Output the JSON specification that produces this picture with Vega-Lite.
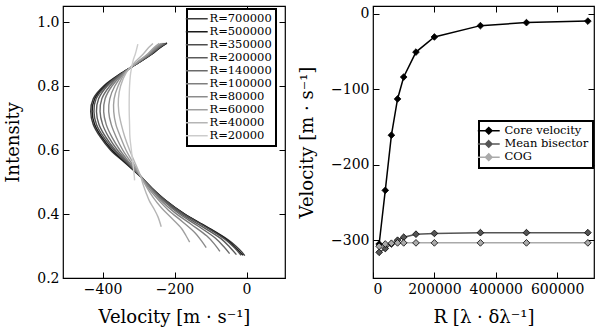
{
"$schema": "https://vega.github.io/schema/vega-lite/v6.json",
"padding": {"left": 4, "top": 4, "right": 0, "bottom": 0},
"config": {
 "font": "DejaVu Serif",
 "view": {"stroke": "black", "strokeWidth": 1.2},
 "axis": {"domain": false, "grid": false, "tickColor": "black", "tickSize": -6, "tickWidth": 1, "labelFont": "DejaVu Serif", "labelFontSize": 14, "labelColor": "black", "titleFont": "DejaVu Serif", "titleFontSize": 18, "titleFontWeight": "normal", "titleColor": "black", "labelPadding": 10, "titlePadding": 12},
 "axisY": {"titlePadding": 14},
 "legend": {"labelFont": "DejaVu Serif", "labelColor": "black", "strokeColor": "black", "strokeWidth": 2, "fillColor": "white", "padding": 4, "labelOffset": 7, "symbolSize": 30, "symbolStrokeWidth": 1.5, "labelFontSize": 11.5, "rowPadding": 0}
},
"spacing": 10,
"resolve": {"scale": {"x": "independent", "y": "independent", "color": "independent"}},
"hconcat": [
{
 "width": 222, "height": 272,
 "data": {"values": [
{"R":"R=700000","k":0,"I":0.935,"v":-221},{"R":"R=700000","k":1,"I":0.92,"v":-240},{"R":"R=700000","k":2,"I":0.90,"v":-262},{"R":"R=700000","k":3,"I":0.87,"v":-304},{"R":"R=700000","k":4,"I":0.84,"v":-348},{"R":"R=700000","k":5,"I":0.80,"v":-397},{"R":"R=700000","k":6,"I":0.76,"v":-426},{"R":"R=700000","k":7,"I":0.72,"v":-433},{"R":"R=700000","k":8,"I":0.68,"v":-426},{"R":"R=700000","k":9,"I":0.64,"v":-406},{"R":"R=700000","k":10,"I":0.60,"v":-378},{"R":"R=700000","k":11,"I":0.56,"v":-338},{"R":"R=700000","k":12,"I":0.52,"v":-298},{"R":"R=700000","k":13,"I":0.48,"v":-262},{"R":"R=700000","k":14,"I":0.44,"v":-222},{"R":"R=700000","k":15,"I":0.40,"v":-172},{"R":"R=700000","k":16,"I":0.36,"v":-110},{"R":"R=700000","k":17,"I":0.32,"v":-52},{"R":"R=700000","k":18,"I":0.30,"v":-30},{"R":"R=700000","k":19,"I":0.28,"v":-12},{"R":"R=700000","k":20,"I":0.27,"v":-5},
{"R":"R=500000","k":0,"I":0.933,"v":-222},{"R":"R=500000","k":1,"I":0.92,"v":-241},{"R":"R=500000","k":2,"I":0.90,"v":-263},{"R":"R=500000","k":3,"I":0.87,"v":-304},{"R":"R=500000","k":4,"I":0.84,"v":-347},{"R":"R=500000","k":5,"I":0.80,"v":-394},{"R":"R=500000","k":6,"I":0.76,"v":-422},{"R":"R=500000","k":7,"I":0.72,"v":-429},{"R":"R=500000","k":8,"I":0.68,"v":-422},{"R":"R=500000","k":9,"I":0.64,"v":-402},{"R":"R=500000","k":10,"I":0.60,"v":-374},{"R":"R=500000","k":11,"I":0.56,"v":-336},{"R":"R=500000","k":12,"I":0.52,"v":-297},{"R":"R=500000","k":13,"I":0.48,"v":-262},{"R":"R=500000","k":14,"I":0.441,"v":-223},{"R":"R=500000","k":15,"I":0.401,"v":-174},{"R":"R=500000","k":16,"I":0.361,"v":-113},{"R":"R=500000","k":17,"I":0.321,"v":-56},{"R":"R=500000","k":18,"I":0.296,"v":-32},{"R":"R=500000","k":19,"I":0.271,"v":-10},
{"R":"R=350000","k":0,"I":0.933,"v":-224},{"R":"R=350000","k":1,"I":0.92,"v":-243},{"R":"R=350000","k":2,"I":0.90,"v":-264},{"R":"R=350000","k":3,"I":0.87,"v":-305},{"R":"R=350000","k":4,"I":0.84,"v":-346},{"R":"R=350000","k":5,"I":0.80,"v":-391},{"R":"R=350000","k":6,"I":0.76,"v":-418},{"R":"R=350000","k":7,"I":0.72,"v":-424},{"R":"R=350000","k":8,"I":0.68,"v":-417},{"R":"R=350000","k":9,"I":0.64,"v":-397},{"R":"R=350000","k":10,"I":0.60,"v":-369},{"R":"R=350000","k":11,"I":0.56,"v":-333},{"R":"R=350000","k":12,"I":0.52,"v":-296},{"R":"R=350000","k":13,"I":0.48,"v":-263},{"R":"R=350000","k":14,"I":0.441,"v":-224},{"R":"R=350000","k":15,"I":0.401,"v":-176},{"R":"R=350000","k":16,"I":0.361,"v":-116},{"R":"R=350000","k":17,"I":0.321,"v":-60},{"R":"R=350000","k":18,"I":0.295,"v":-34},{"R":"R=350000","k":19,"I":0.271,"v":-15},
{"R":"R=200000","k":0,"I":0.933,"v":-226},{"R":"R=200000","k":1,"I":0.92,"v":-244},{"R":"R=200000","k":2,"I":0.90,"v":-265},{"R":"R=200000","k":3,"I":0.87,"v":-305},{"R":"R=200000","k":4,"I":0.84,"v":-345},{"R":"R=200000","k":5,"I":0.80,"v":-387},{"R":"R=200000","k":6,"I":0.76,"v":-411},{"R":"R=200000","k":7,"I":0.72,"v":-417},{"R":"R=200000","k":8,"I":0.68,"v":-410},{"R":"R=200000","k":9,"I":0.64,"v":-391},{"R":"R=200000","k":10,"I":0.60,"v":-365},{"R":"R=200000","k":11,"I":0.56,"v":-331},{"R":"R=200000","k":12,"I":0.52,"v":-296},{"R":"R=200000","k":13,"I":0.48,"v":-264},{"R":"R=200000","k":14,"I":0.441,"v":-228},{"R":"R=200000","k":15,"I":0.401,"v":-182},{"R":"R=200000","k":16,"I":0.362,"v":-125},{"R":"R=200000","k":17,"I":0.323,"v":-71},{"R":"R=200000","k":18,"I":0.297,"v":-47},{"R":"R=200000","k":19,"I":0.273,"v":-28},
{"R":"R=140000","k":0,"I":0.933,"v":-229},{"R":"R=140000","k":1,"I":0.92,"v":-246},{"R":"R=140000","k":2,"I":0.90,"v":-267},{"R":"R=140000","k":3,"I":0.87,"v":-306},{"R":"R=140000","k":4,"I":0.84,"v":-344},{"R":"R=140000","k":5,"I":0.80,"v":-380},{"R":"R=140000","k":6,"I":0.76,"v":-402},{"R":"R=140000","k":7,"I":0.72,"v":-407},{"R":"R=140000","k":8,"I":0.68,"v":-400},{"R":"R=140000","k":9,"I":0.64,"v":-383},{"R":"R=140000","k":10,"I":0.60,"v":-359},{"R":"R=140000","k":11,"I":0.56,"v":-328},{"R":"R=140000","k":12,"I":0.52,"v":-296},{"R":"R=140000","k":13,"I":0.481,"v":-266},{"R":"R=140000","k":14,"I":0.442,"v":-232},{"R":"R=140000","k":15,"I":0.403,"v":-190},{"R":"R=140000","k":16,"I":0.364,"v":-137},{"R":"R=140000","k":17,"I":0.325,"v":-87},{"R":"R=140000","k":18,"I":0.299,"v":-64},{"R":"R=140000","k":19,"I":0.276,"v":-47},
{"R":"R=100000","k":0,"I":0.933,"v":-232},{"R":"R=100000","k":1,"I":0.92,"v":-249},{"R":"R=100000","k":2,"I":0.90,"v":-269},{"R":"R=100000","k":3,"I":0.87,"v":-307},{"R":"R=100000","k":4,"I":0.84,"v":-342},{"R":"R=100000","k":5,"I":0.80,"v":-374},{"R":"R=100000","k":6,"I":0.76,"v":-393},{"R":"R=100000","k":7,"I":0.72,"v":-397},{"R":"R=100000","k":8,"I":0.68,"v":-390},{"R":"R=100000","k":9,"I":0.64,"v":-374},{"R":"R=100000","k":10,"I":0.60,"v":-352},{"R":"R=100000","k":11,"I":0.56,"v":-325},{"R":"R=100000","k":12,"I":0.52,"v":-296},{"R":"R=100000","k":13,"I":0.482,"v":-269},{"R":"R=100000","k":14,"I":0.444,"v":-239},{"R":"R=100000","k":15,"I":0.406,"v":-201},{"R":"R=100000","k":16,"I":0.368,"v":-154},{"R":"R=100000","k":17,"I":0.331,"v":-110},{"R":"R=100000","k":18,"I":0.306,"v":-89},{"R":"R=100000","k":19,"I":0.283,"v":-74},
{"R":"R=80000","k":0,"I":0.933,"v":-236},{"R":"R=80000","k":1,"I":0.92,"v":-253},{"R":"R=80000","k":2,"I":0.90,"v":-272},{"R":"R=80000","k":3,"I":0.87,"v":-308},{"R":"R=80000","k":4,"I":0.84,"v":-340},{"R":"R=80000","k":5,"I":0.80,"v":-366},{"R":"R=80000","k":6,"I":0.76,"v":-380},{"R":"R=80000","k":7,"I":0.72,"v":-383},{"R":"R=80000","k":8,"I":0.68,"v":-376},{"R":"R=80000","k":9,"I":0.64,"v":-362},{"R":"R=80000","k":10,"I":0.60,"v":-344},{"R":"R=80000","k":11,"I":0.56,"v":-320},{"R":"R=80000","k":12,"I":0.52,"v":-295},{"R":"R=80000","k":13,"I":0.483,"v":-274},{"R":"R=80000","k":14,"I":0.448,"v":-248},{"R":"R=80000","k":15,"I":0.412,"v":-217},{"R":"R=80000","k":16,"I":0.376,"v":-178},{"R":"R=80000","k":17,"I":0.340,"v":-142},{"R":"R=80000","k":18,"I":0.316,"v":-125},{"R":"R=80000","k":19,"I":0.295,"v":-112},
{"R":"R=60000","k":0,"I":0.933,"v":-242},{"R":"R=60000","k":1,"I":0.92,"v":-257},{"R":"R=60000","k":2,"I":0.90,"v":-275},{"R":"R=60000","k":3,"I":0.87,"v":-309},{"R":"R=60000","k":4,"I":0.84,"v":-338},{"R":"R=60000","k":5,"I":0.80,"v":-357},{"R":"R=60000","k":6,"I":0.76,"v":-368},{"R":"R=60000","k":7,"I":0.72,"v":-369},{"R":"R=60000","k":8,"I":0.68,"v":-363},{"R":"R=60000","k":9,"I":0.64,"v":-350},{"R":"R=60000","k":10,"I":0.60,"v":-335},{"R":"R=60000","k":11,"I":0.56,"v":-315},{"R":"R=60000","k":12,"I":0.52,"v":-295},{"R":"R=60000","k":13,"I":0.485,"v":-278},{"R":"R=60000","k":14,"I":0.453,"v":-260},{"R":"R=60000","k":15,"I":0.419,"v":-236},{"R":"R=60000","k":16,"I":0.386,"v":-207},{"R":"R=60000","k":17,"I":0.354,"v":-180},{"R":"R=60000","k":18,"I":0.332,"v":-168},{"R":"R=60000","k":19,"I":0.312,"v":-158},
{"R":"R=40000","k":0,"I":0.933,"v":-260},{"R":"R=40000","k":1,"I":0.92,"v":-272},{"R":"R=40000","k":2,"I":0.90,"v":-287},{"R":"R=40000","k":3,"I":0.87,"v":-314},{"R":"R=40000","k":4,"I":0.84,"v":-335},{"R":"R=40000","k":5,"I":0.80,"v":-350},{"R":"R=40000","k":6,"I":0.76,"v":-356},{"R":"R=40000","k":7,"I":0.72,"v":-355},{"R":"R=40000","k":8,"I":0.68,"v":-348},{"R":"R=40000","k":9,"I":0.64,"v":-338},{"R":"R=40000","k":10,"I":0.60,"v":-325},{"R":"R=40000","k":11,"I":0.56,"v":-310},{"R":"R=40000","k":12,"I":0.52,"v":-295},{"R":"R=40000","k":13,"I":0.491,"v":-287},{"R":"R=40000","k":14,"I":0.466,"v":-279},{"R":"R=40000","k":15,"I":0.441,"v":-270},{"R":"R=40000","k":16,"I":0.416,"v":-257},{"R":"R=40000","k":17,"I":0.391,"v":-246},{"R":"R=40000","k":18,"I":0.36,"v":-237},
{"R":"R=20000","k":0,"I":0.931,"v":-302},{"R":"R=20000","k":1,"I":0.90,"v":-309},{"R":"R=20000","k":2,"I":0.88,"v":-315},{"R":"R=20000","k":3,"I":0.84,"v":-322},{"R":"R=20000","k":4,"I":0.80,"v":-325},{"R":"R=20000","k":5,"I":0.76,"v":-326},{"R":"R=20000","k":6,"I":0.72,"v":-326},{"R":"R=20000","k":7,"I":0.68,"v":-325},{"R":"R=20000","k":8,"I":0.64,"v":-324},{"R":"R=20000","k":9,"I":0.60,"v":-320},{"R":"R=20000","k":10,"I":0.56,"v":-316},{"R":"R=20000","k":11,"I":0.52,"v":-312},{"R":"R=20000","k":12,"I":0.505,"v":-311}
 ]},
 "layer": [
  {"mark": {"type": "line", "strokeWidth": 1.4, "interpolate": "catmull-rom"},
   "encoding": {
    "x": {"field": "v", "type": "quantitative", "scale": {"domain": [-510, 107], "nice": false, "zero": false}, "axis": {"orient": "bottom", "values": [-400, -200, 0], "title": "Velocity [m · s⁻¹]"}},
    "y": {"field": "I", "type": "quantitative", "scale": {"domain": [0.2, 1.05], "nice": false, "zero": false}, "axis": {"orient": "left", "values": [0.2, 0.4, 0.6, 0.8, 1.0], "format": ".1f", "title": "Intensity"}},
    "color": {"field": "R", "type": "nominal", "sort": null,
      "scale": {"domain": ["R=700000","R=500000","R=350000","R=200000","R=140000","R=100000","R=80000","R=60000","R=40000","R=20000"],
                "range": ["#3a3a3a","#1a1a1a","#4d4d4d","#5a5a5a","#6a6a6a","#7f7f7f","#8c8c8c","#a0a0a0","#b5b5b5","#cccccc"]},
      "legend": {"title": null, "orient": "none", "legendX": 124, "legendY": 3, "symbolType": "M-4,0H4"}},
    "order": {"field": "k", "type": "quantitative"}
   }},
  {"mark": {"type": "point", "opacity": 0},
   "encoding": {
    "x": {"field": "v", "type": "quantitative", "axis": {"orient": "top", "values": [-400, -200, 0], "labels": false, "title": null}},
    "y": {"field": "I", "type": "quantitative", "axis": {"orient": "right", "values": [0.2, 0.4, 0.6, 0.8, 1.0], "labels": false, "title": null}}
   }}
 ],
 "resolve": {"axis": {"x": "independent", "y": "independent"}}
},
{
 "width": 221, "height": 272,
 "data": {"values": [
{"series":"Core velocity","R":20000,"vel":-305},{"series":"Core velocity","R":40000,"vel":-234},{"series":"Core velocity","R":60000,"vel":-161},{"series":"Core velocity","R":80000,"vel":-113},{"series":"Core velocity","R":100000,"vel":-84},{"series":"Core velocity","R":140000,"vel":-51},{"series":"Core velocity","R":200000,"vel":-31},{"series":"Core velocity","R":350000,"vel":-16},{"series":"Core velocity","R":500000,"vel":-12},{"series":"Core velocity","R":700000,"vel":-10},
{"series":"Mean bisector","R":20000,"vel":-316},{"series":"Mean bisector","R":40000,"vel":-311},{"series":"Mean bisector","R":60000,"vel":-305},{"series":"Mean bisector","R":80000,"vel":-300},{"series":"Mean bisector","R":100000,"vel":-296},{"series":"Mean bisector","R":140000,"vel":-292},{"series":"Mean bisector","R":200000,"vel":-291},{"series":"Mean bisector","R":350000,"vel":-290},{"series":"Mean bisector","R":500000,"vel":-290},{"series":"Mean bisector","R":700000,"vel":-290},
{"series":"COG","R":20000,"vel":-308},{"series":"COG","R":40000,"vel":-305},{"series":"COG","R":60000,"vel":-304},{"series":"COG","R":80000,"vel":-303.5},{"series":"COG","R":100000,"vel":-303.5},{"series":"COG","R":140000,"vel":-303.5},{"series":"COG","R":200000,"vel":-303.5},{"series":"COG","R":350000,"vel":-303.5},{"series":"COG","R":500000,"vel":-303.5},{"series":"COG","R":700000,"vel":-303.5}
 ]},
 "layer": [
  {"mark": {"type": "line", "strokeWidth": 1.5},
   "encoding": {
    "x": {"field": "R", "type": "quantitative", "scale": {"domain": [0, 720000], "nice": false, "zero": false}, "axis": {"orient": "bottom", "values": [0, 200000, 400000, 600000], "format": "d", "title": "R [λ · δλ⁻¹]"}},
    "y": {"field": "vel", "type": "quantitative", "scale": {"domain": [-350, 10], "nice": false, "zero": false}, "axis": {"orient": "left", "values": [-300, -200, -100, 0], "title": "Velocity [m · s⁻¹]"}},
    "color": {"field": "series", "type": "nominal", "sort": null,
      "scale": {"domain": ["Core velocity", "Mean bisector", "COG"], "range": ["#000000", "#555555", "#aaaaaa"]},
      "legend": {"title": null, "orient": "none", "legendX": 106, "legendY": 115, "symbolType": "M-4,0H4M0,-1.2L1.2,0L0,1.2L-1.2,0Z", "rowPadding": -0.8, "padding": 4, "labelOffset": 10}}
   }},
  {"mark": {"type": "point", "shape": "diamond", "filled": true, "size": 45, "stroke": "black", "strokeWidth": 0.8, "opacity": 1},
   "encoding": {
    "x": {"field": "R", "type": "quantitative", "axis": null},
    "y": {"field": "vel", "type": "quantitative", "axis": null},
    "color": {"field": "series", "type": "nominal", "sort": null}
   }},
  {"mark": {"type": "point", "opacity": 0},
   "encoding": {
    "x": {"field": "R", "type": "quantitative", "axis": {"orient": "top", "values": [0, 200000, 400000, 600000], "labels": false, "title": null}},
    "y": {"field": "vel", "type": "quantitative", "axis": {"orient": "right", "values": [-300, -200, -100, 0], "labels": false, "title": null}}
   }}
 ],
 "resolve": {"axis": {"x": "independent", "y": "independent"}}
}
]
}
